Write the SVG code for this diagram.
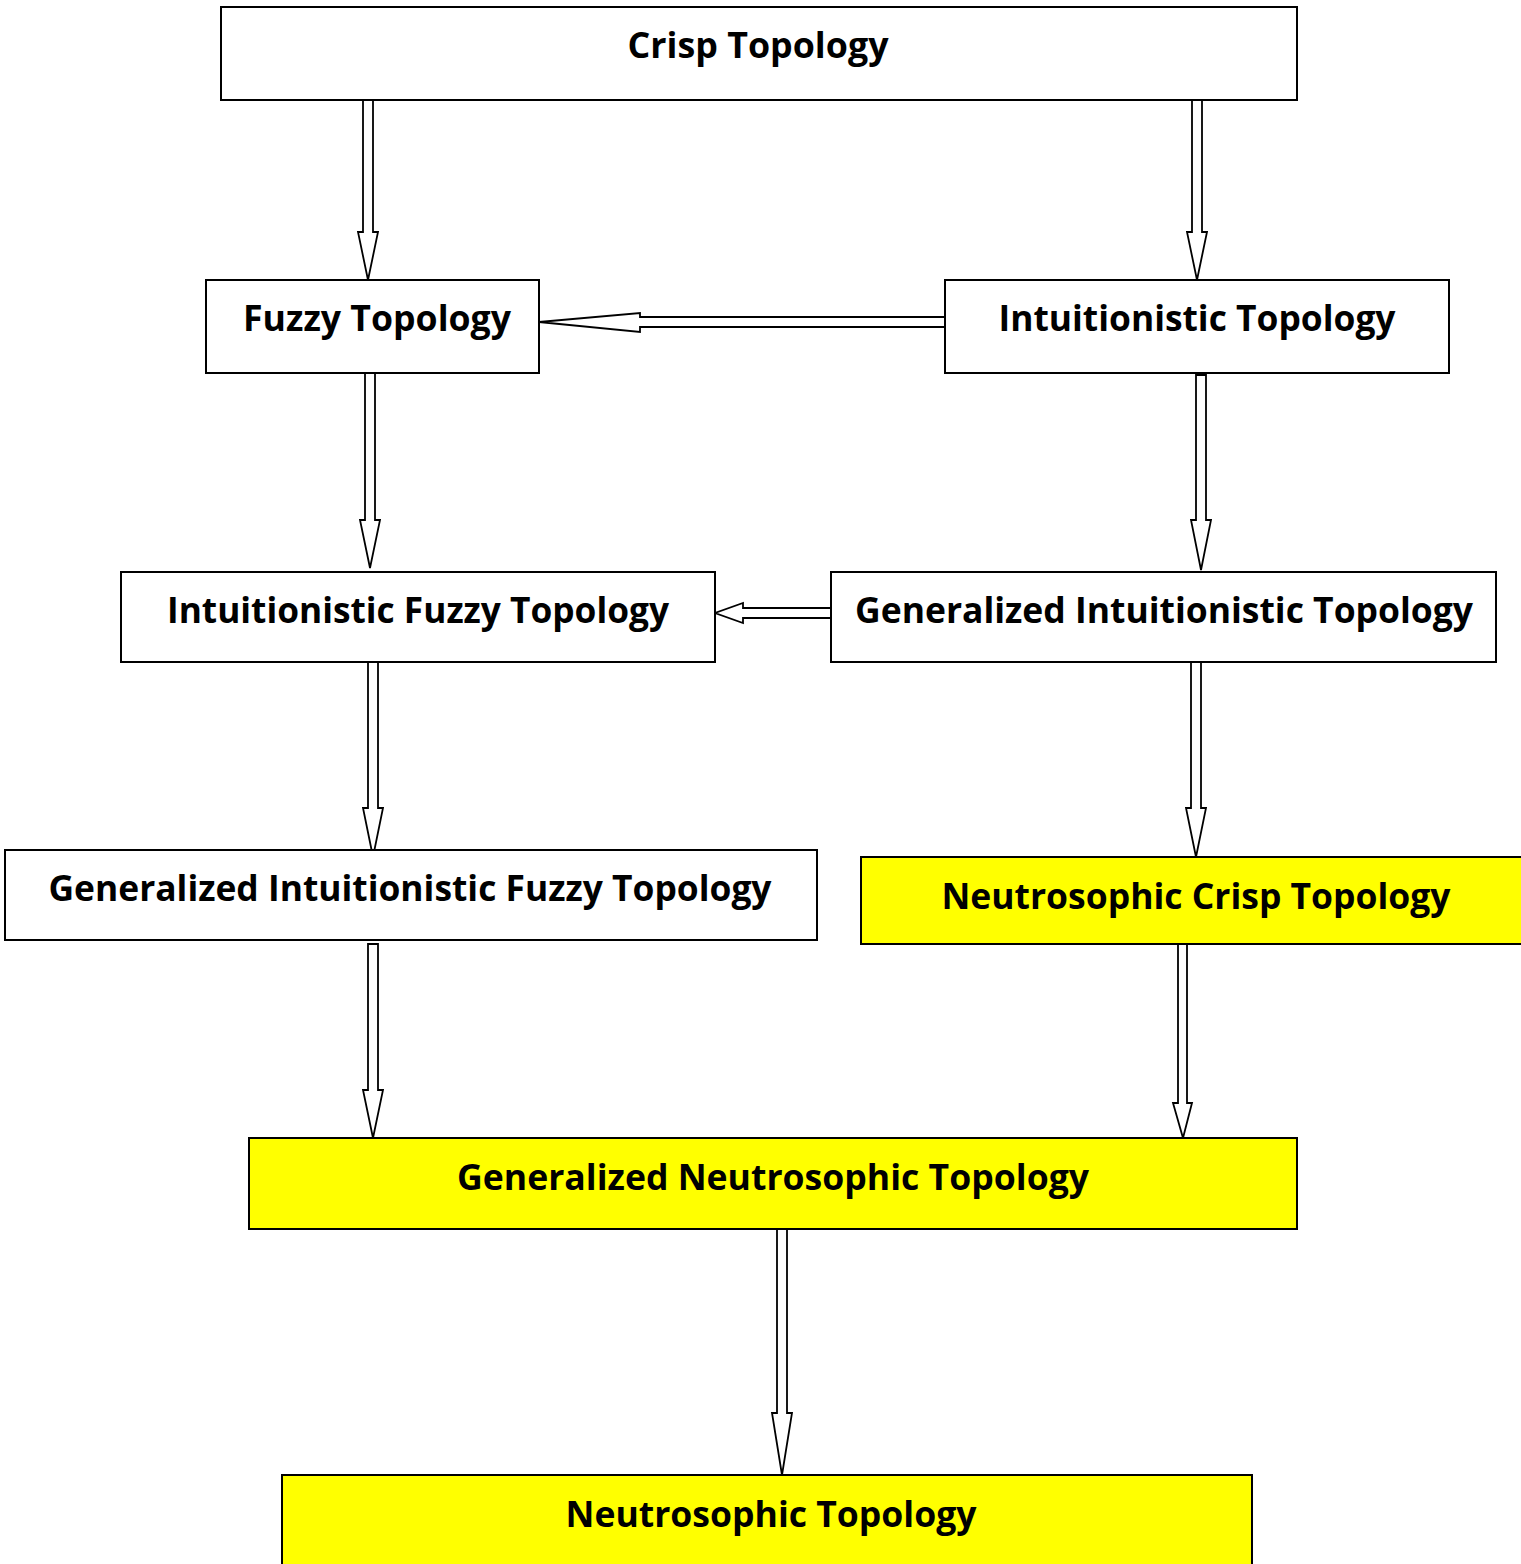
<svg xmlns="http://www.w3.org/2000/svg" width="1521" height="1564" viewBox="0 0 1521 1564">
  <style>
    .box { fill: #ffffff; stroke: #000000; stroke-width: 2; }
    .hl { fill: #ffff00; }
    .lbl { font-family: "Open Sans", "Noto Sans", "Liberation Sans", sans-serif; font-weight: bold; font-size: 35px; fill: #000000; text-anchor: middle; }
    .arrow { fill: #ffffff; stroke: #000000; stroke-width: 1.8; stroke-linejoin: miter; }
  </style>
  <rect width="1521" height="1564" fill="#ffffff"/>

  <g id="connectors">
    <!-- Crisp -> Fuzzy -->
    <polygon class="arrow" points="363,100 373,100 373,232 378,232 368,280 358,232 363,232"/>
    <!-- Crisp -> Intuitionistic -->
    <polygon class="arrow" points="1192,100 1202,100 1202,232 1207,232 1197,280 1187,232 1192,232"/>
    <!-- Intuitionistic -> Fuzzy -->
    <polygon class="arrow" points="945,317 640,317 640,313 539,322 640,332 640,327 945,327"/>
    <!-- Fuzzy -> Intuitionistic Fuzzy -->
    <polygon class="arrow" points="365,373 375,373 375,520 380,520 370,568 360,520 365,520"/>
    <!-- Intuitionistic -> Generalized Intuitionistic -->
    <polygon class="arrow" points="1196,375 1206,375 1206,520 1211,520 1201,570 1191,520 1196,520"/>
    <!-- Generalized Intuitionistic -> Intuitionistic Fuzzy -->
    <polygon class="arrow" points="831,608 743,608 743,603 715,613 743,623 743,618 831,618"/>
    <!-- Intuitionistic Fuzzy -> Generalized Intuitionistic Fuzzy -->
    <polygon class="arrow" points="368,662 378,662 378,808 383,808 373,857 363,808 368,808"/>
    <!-- Generalized Intuitionistic -> Neutrosophic Crisp -->
    <polygon class="arrow" points="1191,662 1201,662 1201,808 1206,808 1196,857 1186,808 1191,808"/>
    <!-- Generalized Intuitionistic Fuzzy -> Generalized Neutrosophic -->
    <polygon class="arrow" points="368,944 378,944 378,1090 383,1090 373,1138 363,1090 368,1090"/>
    <!-- Neutrosophic Crisp -> Generalized Neutrosophic -->
    <polygon class="arrow" points="1178,944 1187,944 1187,1103 1192,1103 1183,1138 1173,1103 1178,1103"/>
    <!-- Generalized Neutrosophic -> Neutrosophic -->
    <polygon class="arrow" points="777,1229 787,1229 787,1413 792,1413 782,1475 772,1413 777,1413"/>
  </g>

  <g id="crisp">
    <rect class="box" x="221" y="7" width="1076" height="93"/>
    <text class="lbl" x="758" y="58" textLength="261" lengthAdjust="spacingAndGlyphs">Crisp Topology</text>
  </g>
  <g id="fuzzy">
    <rect class="box" x="206" y="280" width="333" height="93"/>
    <text class="lbl" x="377" y="331" textLength="268" lengthAdjust="spacingAndGlyphs">Fuzzy Topology</text>
  </g>
  <g id="intuitionistic">
    <rect class="box" x="945" y="280" width="504" height="93"/>
    <text class="lbl" x="1197" y="331" textLength="397" lengthAdjust="spacingAndGlyphs">Intuitionistic Topology</text>
  </g>
  <g id="intuitionistic-fuzzy">
    <rect class="box" x="121" y="572" width="594" height="90"/>
    <text class="lbl" x="418" y="623" textLength="502" lengthAdjust="spacingAndGlyphs">Intuitionistic Fuzzy Topology</text>
  </g>
  <g id="generalized-intuitionistic">
    <rect class="box" x="831" y="572" width="665" height="90"/>
    <text class="lbl" x="1164" y="623" textLength="618" lengthAdjust="spacingAndGlyphs">Generalized Intuitionistic Topology</text>
  </g>
  <g id="generalized-intuitionistic-fuzzy">
    <rect class="box" x="5" y="850" width="812" height="90"/>
    <text class="lbl" x="410" y="901" textLength="723" lengthAdjust="spacingAndGlyphs">Generalized Intuitionistic Fuzzy Topology</text>
  </g>
  <g id="neutrosophic-crisp">
    <rect class="box hl" x="861" y="857" width="662" height="87"/>
    <text class="lbl" x="1196" y="909" textLength="509" lengthAdjust="spacingAndGlyphs">Neutrosophic Crisp Topology</text>
  </g>
  <g id="generalized-neutrosophic">
    <rect class="box hl" x="249" y="1138" width="1048" height="91"/>
    <text class="lbl" x="773" y="1190" textLength="632" lengthAdjust="spacingAndGlyphs">Generalized Neutrosophic Topology</text>
  </g>
  <g id="neutrosophic">
    <rect class="box hl" x="282" y="1475" width="970" height="95"/>
    <text class="lbl" x="771" y="1527" textLength="411" lengthAdjust="spacingAndGlyphs">Neutrosophic Topology</text>
  </g>
</svg>
